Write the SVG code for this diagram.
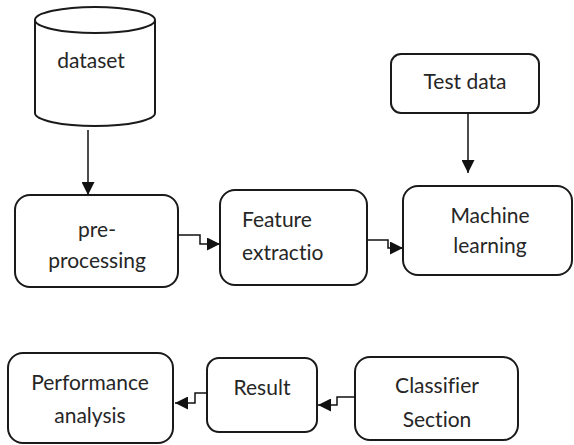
<svg xmlns="http://www.w3.org/2000/svg" width="574" height="445" viewBox="0 0 574 445">
  <defs>
    <marker id="arrow" viewBox="0 0 10 10" refX="10" refY="5" markerWidth="13" markerHeight="13" markerUnits="userSpaceOnUse" orient="auto">
      <path d="M0,0 L10,5 L0,10 Z" fill="#111"/>
    </marker>
    <style>
      .box { fill: #fff; stroke: #1a1a1a; stroke-width: 2; }
      .lbl { font-family: "Lato", "Open Sans", sans-serif; font-size: 21px; fill: #262626; font-variant-ligatures: none; font-feature-settings: "liga" 0, "dlig" 0; }
      .mid { text-anchor: middle; }
      .conn { fill: none; stroke: #111; stroke-width: 1.5; }
    </style>
  </defs>
  <rect width="574" height="445" fill="#fff"/>

  <g id="dataset">
    <path class="box" d="M35,20 L35,113 A60,13 0 0 0 155,113 L155,20"/>
    <ellipse class="box" cx="95" cy="20" rx="60" ry="13"/>
    <text class="lbl mid" x="91" y="68">dataset</text>
  </g>

  <g id="test-data">
    <rect class="box" x="391" y="54" width="148" height="59" rx="10"/>
    <text class="lbl mid" x="465" y="89">Test data</text>
  </g>

  <g id="pre-processing">
    <rect class="box" x="15" y="195" width="163" height="92" rx="15"/>
    <text class="lbl mid" x="97" y="237">pre-</text>
    <text class="lbl mid" x="97" y="268">processing</text>
  </g>

  <g id="feature-extraction">
    <rect class="box" x="220" y="190" width="147" height="95" rx="15"/>
    <text class="lbl" x="242" y="227">Feature</text>
    <text class="lbl" x="242" y="260">extractio</text>
  </g>

  <g id="machine-learning">
    <rect class="box" x="403" y="186" width="169" height="89" rx="15"/>
    <text class="lbl mid" x="490" y="223">Machine</text>
    <text class="lbl mid" x="490" y="253">learning</text>
  </g>

  <g id="performance-analysis">
    <rect class="box" x="8" y="353" width="165" height="90" rx="15"/>
    <text class="lbl mid" x="90" y="390">Performance</text>
    <text class="lbl mid" x="90" y="423">analysis</text>
  </g>

  <g id="result">
    <rect class="box" x="207" y="358" width="110" height="74" rx="12"/>
    <text class="lbl mid" x="262" y="395">Result</text>
  </g>

  <g id="classifier-section">
    <rect class="box" x="355" y="357" width="163" height="83" rx="15"/>
    <text class="lbl mid" x="437" y="393">Classifier</text>
    <text class="lbl mid" x="437" y="427">Section</text>
  </g>

  <g id="connectors">
    <path class="conn" d="M88,130 L88,195" marker-end="url(#arrow)"/>
    <path class="conn" d="M468,113 L468,173" marker-end="url(#arrow)"/>
    <path class="conn" d="M178,235 L200,235 L200,244 L220,244" marker-end="url(#arrow)"/>
    <path class="conn" d="M367,240 L388,240 L388,248 L403,248" marker-end="url(#arrow)"/>
    <path class="conn" d="M355,397 L337,397 L337,405 L318,405" marker-end="url(#arrow)"/>
    <path class="conn" d="M207,393 L195,393 L195,403 L175,403" marker-end="url(#arrow)"/>
  </g>
</svg>
